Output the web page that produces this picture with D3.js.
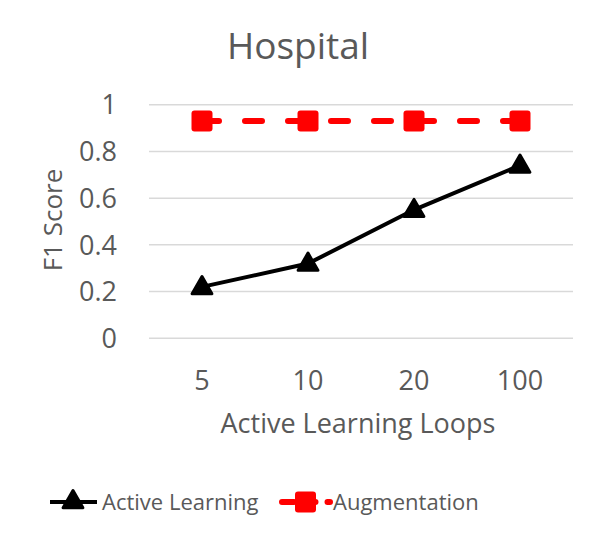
<script src="https://cdn.jsdelivr.net/npm/d3@7"></script>
<style>
 body { margin: 0; background: #fff; }
 text { font-family: "Open Sans", sans-serif; fill: #595959; }
</style>
<body>
<script>
 // values
var loops = ["5", "10", "20", "100"];
var activeLearning = [0.22, 0.32, 0.55, 0.74];
var augmentation = [0.93, 0.93, 0.93, 0.93];
var yTicks = [0, 0.2, 0.4, 0.6, 0.8, 1];

var width = 600,
 height = 544;
var margin = { top: 104.7, right: 27, bottom: 205.7, left: 149 };

var svg = d3.select("body").append("svg")
 .attr("width", width)
 .attr("height", height);

var x = d3.scaleBand()
 .domain(loops)
 .range([margin.left, width - margin.right]);
var y = d3.scaleLinear()
 .domain([0, 1])
 .range([height - margin.bottom, margin.top]);

 //gridlines
svg.append("g")
 .selectAll("line")
 .data(yTicks)
 .enter().append("line")
 .attr("x1", margin.left)
 .attr("x2", width - margin.right)
 .attr("y1", function(d) { return y(d); })
 .attr("y2", function(d) { return y(d); })
 .attr("stroke", "#d9d9d9")
 .attr("stroke-width", 1.5);

 //y tick labels
svg.append("g")
 .selectAll("text")
 .data(yTicks)
 .enter().append("text")
 .attr("x", 117)
 .attr("y", function(d) { return y(d); })
 .attr("dy", "0.36em")
 .attr("text-anchor", "end")
 .style("font-size", "27px")
 .text(function(d) { return +d.toFixed(1); });

 //x tick labels
svg.append("g")
 .selectAll("text")
 .data(loops)
 .enter().append("text")
 .attr("x", function(d) { return x(d) + x.bandwidth() / 2; })
 .attr("y", 390)
 .attr("text-anchor", "middle")
 .style("font-size", "27px")
 .text(function(d) { return d; });

svg.append("text")
 .attr("x", 298)
 .attr("y", 59)
 .attr("text-anchor", "middle")
 .style("font-size", "37px")
 .text("Hospital");

svg.append("text")
 .attr("x", 358)
 .attr("y", 433)
 .attr("text-anchor", "middle")
 .style("font-size", "27px")
 .text("Active Learning Loops");

svg.append("text")
 .attr("transform", "translate(62,220) rotate(-90)")
 .attr("text-anchor", "middle")
 .style("font-size", "26px")
 .text("F1 Score");

var cx = function(d, i) { return x(loops[i]) + x.bandwidth() / 2; };
var line = d3.line()
 .x(function(d, i) { return cx(d, i); })
 .y(function(d) { return y(d); });

 //augmentation series
svg.append("path")
 .datum(augmentation)
 .attr("d", line)
 .attr("fill", "none")
 .attr("stroke", "#ff0000")
 .attr("stroke-width", 6)
 .attr("stroke-linecap", "round")
 .attr("stroke-dasharray", "17,26");
svg.append("g")
 .selectAll("rect")
 .data(augmentation)
 .enter().append("rect")
 .attr("x", function(d, i) { return cx(d, i) - 10.5; })
 .attr("y", function(d) { return y(d) - 10.5; })
 .attr("width", 21)
 .attr("height", 21)
 .attr("rx", 3)
 .attr("fill", "#ff0000");

 //active learning series
svg.append("path")
 .datum(activeLearning)
 .attr("d", line)
 .attr("fill", "none")
 .attr("stroke", "#000")
 .attr("stroke-width", 4);
var tri = d3.symbol().type(d3.symbolTriangle).size(170);
svg.append("g")
 .selectAll("path")
 .data(activeLearning)
 .enter().append("path")
 .attr("d", tri)
 .attr("transform", function(d, i) { return "translate(" + cx(d, i) + "," + (y(d) + 1) + ")"; })
 .attr("fill", "#000")
 .attr("stroke", "#000")
 .attr("stroke-width", 3)
 .attr("stroke-linejoin", "round");

 //legend
var lg = svg.append("g");
lg.append("line")
 .attr("x1", 50).attr("x2", 97).attr("y1", 502).attr("y2", 502)
 .attr("stroke", "#000").attr("stroke-width", 4);
lg.append("path")
 .attr("d", tri)
 .attr("transform", "translate(73,502)")
 .attr("fill", "#000").attr("stroke", "#000")
 .attr("stroke-width", 3).attr("stroke-linejoin", "round");
lg.append("text")
 .attr("x", 102).attr("y", 510)
 .style("font-size", "22px")
 .text("Active Learning");
lg.append("line")
 .attr("x1", 282).attr("x2", 330).attr("y1", 502).attr("y2", 502)
 .attr("stroke", "#ff0000").attr("stroke-width", 6)
 .attr("stroke-linecap", "round")
 .attr("stroke-dasharray", "12,9.5,12");
lg.append("rect")
 .attr("x", 295).attr("y", 491.5)
 .attr("width", 21).attr("height", 21).attr("rx", 3)
 .attr("fill", "#ff0000");
lg.append("text")
 .attr("x", 333).attr("y", 510)
 .style("font-size", "22px")
 .text("Augmentation");
</script>
</body>
